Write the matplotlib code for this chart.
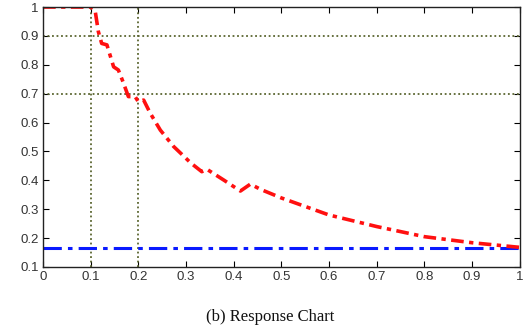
import matplotlib
matplotlib.use("Agg")
import matplotlib.pyplot as plt

# Response curve (red)
resp_x = [0.0, 0.05, 0.10, 0.109, 0.116, 0.123, 0.134, 0.148, 0.158, 0.168, 0.179, 0.193, 0.200,
          0.211, 0.225, 0.246, 0.274, 0.288, 0.310, 0.333, 0.344, 0.380, 0.414, 0.435, 0.456,
          0.50, 0.60, 0.70, 0.80, 0.90, 1.00]
resp_y = [1.0, 1.0, 1.0, 0.99, 0.915, 0.874, 0.869, 0.793, 0.782, 0.74, 0.69, 0.69, 0.672,
          0.678, 0.632, 0.574, 0.517, 0.495, 0.46, 0.43, 0.438, 0.40, 0.363, 0.387, 0.369,
          0.339, 0.28, 0.24, 0.205, 0.184, 0.168]
# Baseline (blue)
base_x = [0.0, 1.0]
base_y = [0.167, 0.167]
# Reference guide lines
guide_h = [0.9, 0.7]
guide_v = [0.1, 0.2]

xticks = [0, 0.1, 0.2, 0.3, 0.4, 0.5, 0.6, 0.7, 0.8, 0.9, 1]
xticklabels = ["0", "0.1", "0.2", "0.3", "0.4", "0.5", "0.6", "0.7", "0.8", "0.9", "1"]
yticks = [0.1, 0.2, 0.3, 0.4, 0.5, 0.6, 0.7, 0.8, 0.9, 1]
yticklabels = ["0.1", "0.2", "0.3", "0.4", "0.5", "0.6", "0.7", "0.8", "0.9", "1"]
caption = "(b) Response Chart"

fig = plt.figure(figsize=(5.25, 3.35), dpi=100)
ax = fig.add_axes([0.082, 0.203, 0.908, 0.776])

guide_color = "#5b6630"
for h in guide_h:
    ax.axhline(h, color=guide_color, linestyle=(0, (1, 1.5)), linewidth=1.3)
for v in guide_v:
    ax.axvline(v, color=guide_color, linestyle=(0, (1, 1.5)), linewidth=1.3)

ax.plot(base_x, base_y, color="#0a1aff", linewidth=2.2, linestyle=(0, (6, 2, 1.5, 2)))
ax.plot(resp_x, resp_y, color="#ff1010", linewidth=2.6, linestyle=(0, (3.5, 1.5, 1.2, 1.5)))

ax.set_xlim(0, 1)
ax.set_ylim(0.1, 1)
ax.set_xticks(xticks)
ax.set_xticklabels(xticklabels)
ax.set_yticks(yticks)
ax.set_yticklabels(yticklabels)
ax.tick_params(direction="in", top=True, right=True, length=4, width=0.8,
               labelsize=9.5, labelcolor="#333333", pad=3)
for lab in ax.get_xticklabels() + ax.get_yticklabels():
    lab.set_family(["Liberation Sans", "DejaVu Sans"])
for s in ax.spines.values():
    s.set_linewidth(1.0)
    s.set_color("#222222")

fig.text(0.515, 0.055, caption, ha="center", va="center", fontsize=12,
         family=["Liberation Serif", "DejaVu Serif"], color="#111111")

fig.savefig("out.png", dpi=100)
